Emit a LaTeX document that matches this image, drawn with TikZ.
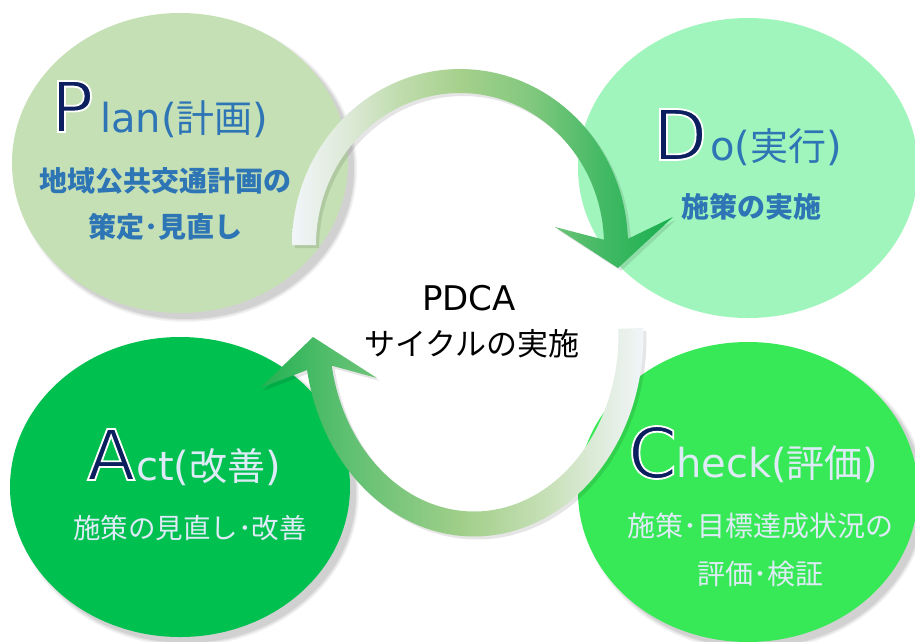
\documentclass[tikz,border=0pt]{standalone}
\usepackage{fontspec}
\setmainfont{DejaVu Sans}
\newfontfamily\jpfont{Noto Sans CJK JP}
\definecolor{planfill}{HTML}{C5E0B4}
\definecolor{dofill}{HTML}{A0F5BC}
\definecolor{actfill}{HTML}{00C050}
\definecolor{checkfill}{HTML}{37E956}
\definecolor{navyL}{HTML}{0C1F5F}
\definecolor{blueT}{HTML}{2E75B6}
\definecolor{paleT}{HTML}{DEEBF7}
\definecolor{tgA}{HTML}{F1F5F9}
\definecolor{tgB}{HTML}{DCE9D6}
\definecolor{tgC}{HTML}{BFDCAD}
\definecolor{tgD}{HTML}{A6D08C}
\definecolor{tgE}{HTML}{82C87E}
\definecolor{tgF}{HTML}{45BA66}
\definecolor{tgG}{HTML}{17AE4E}
\definecolor{bgA}{HTML}{22B152}
\definecolor{bgB}{HTML}{5ABF70}
\definecolor{bgC}{HTML}{A2CF8A}
\definecolor{bgD}{HTML}{C9E1BA}
\definecolor{bgE}{HTML}{F1F5F9}
\pgfdeclarehorizontalshading{topgrad}{100bp}{color(0bp)=(tgA); color(25bp)=(tgA); color(32.6bp)=(tgB); color(39.2bp)=(tgC); color(47bp)=(tgD); color(56.2bp)=(tgE); color(65.4bp)=(tgF); color(75bp)=(tgG); color(100bp)=(tgG)}
\pgfdeclarehorizontalshading{botgrad}{100bp}{color(0bp)=(bgA); color(25bp)=(bgA); color(35.4bp)=(bgB); color(51.6bp)=(bgC); color(62.9bp)=(bgD); color(75bp)=(bgE); color(100bp)=(bgE)}
\newcommand{\TopArrowPath}{plot[domain=180:358,samples=90,variable=\t] ({460+168*cos(\t)},{245+176*sin(\t)}) -- (673,217) -- (618,268) -- (555,227) -- plot[domain=358:180,samples=90,variable=\t] ({460+144*cos(\t)},{245+152*sin(\t)}) -- cycle}
\newcommand{\BotArrowPath}{plot[domain=-2:170,samples=90,variable=\t] ({474+169.5*cos(\t)},{335+201.5*sin(\t)}) -- (260,388) -- (313,337) -- (377,378) -- plot[domain=170:-2,samples=90,variable=\t] ({474+144.5*cos(\t)},{335+176.5*sin(\t)}) -- cycle}
\newcommand{\JT}[1]{{\jpfont\fontsize{38}{38}\selectfont #1}}
\newcommand{\SoftShadow}[3]{% center, x radius, y radius
  \fill[black,opacity=0.05] #1 ellipse[x radius=#2+3, y radius=#3+3];
  \fill[black,opacity=0.06] #1 ellipse[x radius=#2+1.5, y radius=#3+1.5];
  \fill[black,opacity=0.08] #1 ellipse[x radius=#2, y radius=#3];
}
% big initial: navy fill with a white stroke (text render mode 2)
\newcommand{\OutlinedLetter}[3]{%
  \node[bigletter,text=navyL] (#1) at #2 {\special{pdf:literal direct 1 1 1 RG 1.8 w 2 Tr}#3\special{pdf:literal direct 0 Tr}};
}
\begin{document}
\begin{tikzpicture}[x=1pt,y=-1pt,
  bigletter/.style={font=\fontsize{70}{70}\selectfont, inner sep=0pt, anchor=base west},
  titlerest/.style={font=\fontsize{40}{40}\selectfont, inner sep=0pt, anchor=base west},
  subbold/.style={font=\jpfont\bfseries\fontsize{28}{28}\selectfont, inner sep=0pt, text=blueT},
  subpale/.style={font=\jpfont\fontsize{27.5}{27.5}\selectfont, inner sep=0pt, text=paleT},
  centertext/.style={inner sep=0pt, text=black}]
\useasboundingbox (0,0) rectangle (915,641);
\fill[white] (0,0) rectangle (915,641);
% circles
\SoftShadow{(186,169)}{168}{150}
\fill[planfill] (180,163) ellipse[x radius=168, y radius=150];
\fill[dofill] (748,168) ellipse[x radius=170, y radius=150];
\SoftShadow{(186,493)}{170}{150}
\fill[actfill] (180,487) ellipse[x radius=170, y radius=150];
\SoftShadow{(754,498)}{170}{150}
\fill[checkfill] (748,492) ellipse[x radius=170, y radius=150];
% arrows
\fill[black,opacity=0.10,shift={(3,3)}] \TopArrowPath;
\shade[shading=topgrad] \TopArrowPath;
\fill[black,opacity=0.10,shift={(3,3)}] \BotArrowPath;
\shade[shading=botgrad] \BotArrowPath;
% Plan
\OutlinedLetter{P}{(51,132)}{P}
\node[titlerest,text=blueT] (plantitle) at (100,132) {lan(\JT{計画})};
\node[subbold] (plan1) at (165,181) {地域公共交通計画の};
\node[subbold] (plan2) at (165,227) {策定･見直し};
% Do
\OutlinedLetter{D}{(653,160)}{D}
\node[titlerest,text=blueT] (dotitle) at (710,160) {o(\JT{実行})};
\node[subbold] (do1) at (751,207) {施策の実施};
% Act
\OutlinedLetter{A}{(87,480)}{A}
\node[titlerest,text=paleT] (acttitle) at (136,480) {ct(\JT{改善})};
\node[subpale] (act1) at (190,528) {施策の見直し･改善};
% Check
\OutlinedLetter{C}{(628,478)}{C}
\node[titlerest,text=paleT] (checktitle) at (676,477) {heck(\JT{評価})};
\node[subpale,font=\jpfont\fontsize{28}{28}\selectfont] (check1) at (760,526) {施策･目標達成状況の};
\node[subpale,font=\jpfont\fontsize{28}{28}\selectfont] (check2) at (760,574) {評価･検証};
% centre
\node[centertext,font=\fontsize{34}{34}\selectfont,anchor=base] (pdca) at (469,310) {PDCA};
\node[centertext,font=\jpfont\fontsize{31}{31}\selectfont] (cycle) at (472,344) {サイクルの実施};
\end{tikzpicture}
\end{document}
